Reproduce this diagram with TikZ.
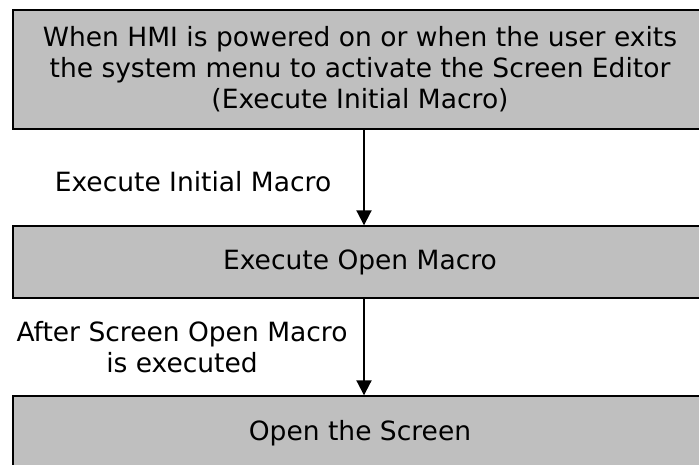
\documentclass[tikz,border=0pt]{standalone}
\usepackage{fontspec}
\setmainfont{DejaVu Sans}
\usepackage{tikz}
\usetikzlibrary{positioning,arrows.meta}

\begin{document}
\begin{tikzpicture}[
  x=1pt, y=1pt,
  stage/.style={rectangle, draw, line width=1.4pt, fill=gray!50, minimum width=694pt, align=center, font=\fontsize{26.5}{31}\selectfont},
  flow/.style={-{Triangle[width=15pt,length=15pt]}, line width=2pt},
  cond/.style={font=\fontsize{26.5}{31}\selectfont, align=center}
]
\useasboundingbox (0,0) rectangle (699,464);
\clip (0,0) rectangle (699,464);

% Stages
\node[stage, minimum height=119pt] (power) at (360,394.5) {When HMI is powered on or when the user exits\\the system menu to activate the Screen Editor\\(Execute Initial Macro)};
\node[stage, minimum height=72pt] (openmac) at (360,202) {Execute Open Macro};
\node[stage, minimum height=74pt] (screen) at (360,31) {Open the Screen};

% Transitions
\draw[flow] ([xshift=4pt]power.south) -- ([xshift=4pt]openmac.north);
\draw[flow] ([xshift=4pt]openmac.south) -- ([xshift=4pt]screen.north);

% Conditions
\node[cond] (initcond) at (193,282) {Execute Initial Macro};
\node[cond] (aftercond) at (182,117) {After Screen Open Macro\\is executed};

\end{tikzpicture}
\end{document}
